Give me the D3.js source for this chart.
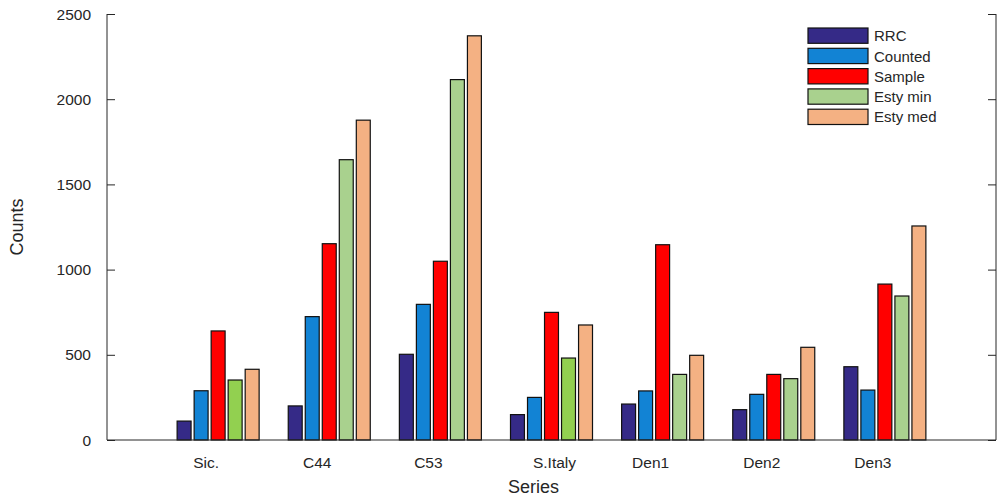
<!DOCTYPE html>
<html>
<head>
<meta charset="utf-8">
<script src="https://cdn.jsdelivr.net/npm/d3@7"></script>
<style>
  body { margin: 0; background: #fff; }
  text { font-family: "Liberation Sans", Arial, sans-serif; fill: #262626; }
</style>
</head>
<body>
<div id="chart"></div>
<script>
// categories and series
const categories = ['Sic.', 'C44', 'C53', 'S.Italy', 'Den1', 'Den2', 'Den3'];
const seriesNames = ['RRC', 'Counted', 'Sample', 'Esty min', 'Esty med'];

// values per series, one per category
const rrc     = [111, 200, 503, 149, 211, 178, 430];
const counted = [289, 724, 796, 250, 288, 268, 293];
const sample  = [640, 1152, 1049, 749, 1146, 385, 915];
const estyMin = [352, 1645, 2115, 481, 385, 360, 845];
const estyMed = [415, 1877, 2372, 675, 497, 544, 1256];

// categories whose Esty min bar is drawn in the brighter green
const brightMin = ['Sic.', 'S.Italy'];

const yTicks = [0, 500, 1000, 1500, 2000, 2500];

const colors = ['#352a87', '#1283d4', '#ff0000', '#a9d18e', '#f4b183'];
const brightGreen = '#92d050';

const W = 997, H = 499;
const margin = {top: 14, right: 1, bottom: 59, left: 107};
const width = W - margin.left - margin.right,
      height = H - margin.top - margin.bottom;

const values = [rrc, counted, sample, estyMin, estyMed];
const data = [];
categories.forEach((c, ci) => {
  seriesNames.forEach((s, si) => {
    data.push({cat: c, ci: ci, series: s, si: si, value: values[si][ci]});
  });
});

const svg = d3.select('#chart')
  .append('svg')
  .attr('width', W)
  .attr('height', H)
  .append('g')
  .attr('transform', 'translate(' + margin.left + ',' + margin.top + ')');

const x = d3.scaleLinear().domain([0, categories.length + 1]).range([0, width]);
const y = d3.scaleLinear().domain([0, 2500]).range([height, 0]);

const step = x(1) - x(0);
const inner = d3.scaleBand()
  .domain(seriesNames)
  .range([-step * 0.369, step * 0.369])
  .paddingInner(0.18);

// bars
svg.selectAll('.bar')
  .data(data)
  .enter()
  .append('rect')
  .attr('class', 'bar')
  .attr('x', d => x(d.ci + 1) + inner(d.series))
  .attr('width', inner.bandwidth())
  .attr('y', d => y(d.value))
  .attr('height', d => y(0) - y(d.value))
  .attr('fill', d => (d.si === 3 && brightMin.includes(d.cat)) ? brightGreen : colors[d.si])
  .attr('stroke', '#111')
  .attr('stroke-width', 1.2);

// axis lines: left, bottom, right (no top)
svg.append('path')
  .attr('d', 'M0,0V' + height + 'H' + width + 'V0')
  .attr('fill', 'none')
  .attr('stroke', '#262626')
  .attr('stroke-width', 1);

// y axis, ticks inward on both sides
const yAxisL = svg.append('g')
  .call(d3.axisRight(y).tickValues(yTicks).tickSize(8).tickFormat(''));
yAxisL.select('.domain').remove();
yAxisL.selectAll('line').attr('stroke', '#262626');

const yAxisR = svg.append('g')
  .attr('transform', 'translate(' + width + ',0)')
  .call(d3.axisLeft(y).tickValues(yTicks).tickSize(8).tickFormat(''));
yAxisR.select('.domain').remove();
yAxisR.selectAll('line').attr('stroke', '#262626');

svg.selectAll('.ylab')
  .data(yTicks)
  .enter()
  .append('text')
  .attr('class', 'ylab')
  .attr('x', -16)
  .attr('y', d => y(d))
  .attr('dy', '0.36em')
  .attr('text-anchor', 'end')
  .style('font-size', '15.5px')
  .text(d => d);

// category labels
const labelShift = {'S.Italy': 3};
svg.selectAll('.xlab')
  .data(categories)
  .enter()
  .append('text')
  .attr('class', 'xlab')
  .attr('x', (d, i) => x(i + 1) + (labelShift[d] !== undefined ? labelShift[d] : -12))
  .attr('y', height + 28)
  .attr('text-anchor', 'middle')
  .style('font-size', '15.5px')
  .text(d => d);

// axis titles
svg.append('text')
  .attr('x', x(4) - 18)
  .attr('y', height + 53)
  .attr('text-anchor', 'middle')
  .style('font-size', '18px')
  .text('Series');

svg.append('text')
  .attr('transform', 'translate(' + (-84) + ',' + y(1250) + ') rotate(-90)')
  .attr('text-anchor', 'middle')
  .style('font-size', '18px')
  .text('Counts');

// legend
const legend = svg.append('g')
  .attr('transform', 'translate(' + (808 - margin.left) + ',' + (28 - margin.top) + ')');

const items = legend.selectAll('.item')
  .data(seriesNames)
  .enter()
  .append('g')
  .attr('class', 'item')
  .attr('transform', (d, i) => 'translate(0,' + (i * 20.3) + ')');

items.append('rect')
  .attr('width', 60)
  .attr('height', 15.3)
  .attr('fill', (d, i) => colors[i])
  .attr('stroke', '#111')
  .attr('stroke-width', 1.2);

items.append('text')
  .attr('x', 66)
  .attr('y', 7.8)
  .attr('dy', '0.36em')
  .style('font-size', '15px')
  .text(d => d);
</script>
</body>
</html>
